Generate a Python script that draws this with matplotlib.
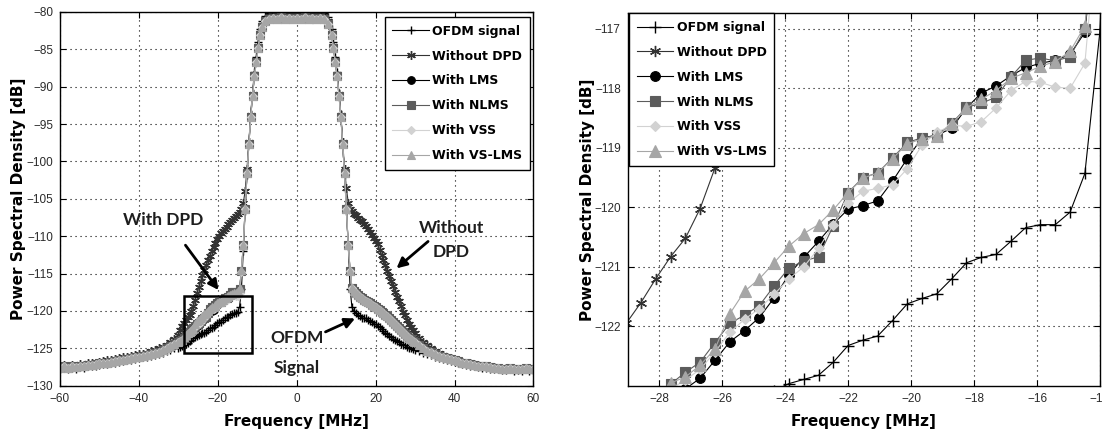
import matplotlib
matplotlib.use("Agg")
import matplotlib.pyplot as plt
from matplotlib.patches import Rectangle

# ---------------- data ----------------
freq_left_tail = [-60, -59, -58, -57, -56, -55, -54, -53, -52, -51, -50, -49, -48, -47, -46, -45,
                  -44, -43, -42, -41, -40, -39, -38, -37, -36, -35, -34, -33, -32, -31, -30,
                  -29.52, -29.05]
freq_zoom = [-28.58, -28.11, -27.64, -27.17, -26.70, -26.23, -25.76, -25.29, -24.82, -24.35,
             -23.88, -23.41, -22.94, -22.47, -22.00, -21.53, -21.06, -20.59, -20.12, -19.65,
             -19.18, -18.71, -18.24, -17.77, -17.30, -16.83, -16.36, -15.89, -15.42, -14.95,
             -14.48, -14.01]
freq_core = [-13.54, -13.07, -12.60, -12.13, -11.66, -11.19, -10.72, -10.25, -9.78, -9.31, -8.84,
             -8, -7, -6, -5, -4, -3, -2, -1, 0, 1, 2, 3, 4, 5, 6, 7, 8,
             8.84, 9.31, 9.78, 10.25, 10.72, 11.19, 11.66, 12.13, 12.60, 13.07, 13.54]
freq_right = [14.0, 14.5, 15.0, 15.5, 16.0, 16.5, 17.0, 17.5, 18.0, 18.5, 19.0, 19.5, 20.0, 20.5,
              21.0, 21.5, 22.0, 22.5, 23.0, 23.5, 24.0, 24.5, 25.0, 25.5, 26.0, 26.5, 27.0, 27.5,
              28.0, 28.5, 29.0, 29.5, 30.0,
              31, 32, 33, 34, 35, 36, 37, 38, 39, 40, 41, 42, 43, 44, 45, 46, 47, 48, 49, 50,
              51, 52, 53, 54, 55, 56, 57, 58, 59, 60]

# OFDM signal
ofdm_left_tail = [-127.8, -127.6, -127.8, -127.6, -127.7, -127.5, -127.6, -127.4, -127.4, -127.3,
                  -127.2, -127.1, -127.1, -127.0, -126.9, -126.8, -126.7, -126.6, -126.5, -126.4,
                  -126.3, -126.2, -126.1, -126.0, -125.9, -125.8, -125.6, -125.4, -125.2, -125.0,
                  -124.9, -124.8, -124.7]
ofdm_zoom = [-124.6, -124.45, -124.25, -124.05, -123.85, -123.65, -123.5, -123.35, -123.2, -123.08,
             -122.96, -122.89, -122.82, -122.6, -122.32, -122.23, -122.16, -121.9, -121.62, -121.53,
             -121.45, -121.2, -120.93, -120.84, -120.79, -120.57, -120.34, -120.29, -120.29, -120.08,
             -119.43, -117.08]
ofdm_core = [-112.0, -106.6, -101.8, -97.6, -93.6, -90.8, -88.0, -86.0, -84.0, -82.3, -81.2,
             -80.6, -80.2, -80.1, -80.0, -80.1, -80.0, -80.1, -80.0, -80.1, -80.0, -80.1, -80.0,
             -80.1, -80.0, -80.1, -80.2, -80.7,
             -82.3, -84.0, -86.0, -88.0, -90.8, -93.6, -97.6, -101.8, -106.6, -111.3, -117.0]
ofdm_right = [-119.5, -120.0, -120.3, -120.5, -120.7, -120.9, -121.0, -121.0, -121.2, -121.4,
              -121.5, -121.7, -121.8, -122.0, -122.2, -122.4, -122.7, -122.9, -123.1, -123.3,
              -123.5, -123.7, -123.9, -124.0, -124.2, -124.4, -124.5, -124.6, -124.8, -124.9,
              -125.0, -125.1, -125.2,
              -125.4, -125.6, -125.8, -125.9, -126.1, -126.3, -126.4, -126.5, -126.7, -126.8,
              -126.9, -127.1, -127.2, -127.3, -127.4, -127.5, -127.6, -127.6, -127.7, -127.8,
              -127.8, -127.9, -127.9, -127.8, -128.0, -127.9, -128.0, -127.8, -128.0, -127.9]

# Without DPD
nodpd_left_tail = [-127.4, -127.2, -127.4, -127.2, -127.3, -127.1, -127.2, -127.0, -127.0, -126.9,
                   -126.8, -126.7, -126.6, -126.5, -126.4, -126.3, -126.2, -126.1, -126.0, -125.9,
                   -125.8, -125.7, -125.6, -125.4, -125.2, -125.0, -124.8, -124.5, -124.2, -123.8,
                   -123.2, -122.5, -121.95]
nodpd_zoom = [-121.6, -121.2, -120.83, -120.52, -120.02, -119.34, -118.5, -117.6, -116.8, -116.0,
              -115.2, -114.5, -113.8, -113.2, -112.6, -112.0, -111.4, -110.9, -110.4, -110.0,
              -109.6, -109.3, -109.0, -108.7, -108.4, -108.1, -107.8, -107.6, -107.3, -107.0,
              -106.7, -106.3]
nodpd_core = [-105.6, -103.9, -101.0, -97.4, -93.8, -91.0, -88.4, -86.4, -84.5, -82.8, -81.7,
              -80.9, -80.5, -80.4, -80.3, -80.4, -80.3, -80.4, -80.3, -80.4, -80.3, -80.4, -80.3,
              -80.4, -80.3, -80.4, -80.6, -81.2,
              -82.8, -84.5, -86.4, -88.4, -91.0, -93.8, -97.4, -101.0, -103.6, -105.5, -106.3]
nodpd_right = [-106.6, -107.0, -107.2, -107.5, -107.8, -108.0, -108.3, -108.6, -109.0, -109.4,
               -109.8, -110.2, -110.6, -111.1, -111.8, -112.5, -113.2, -113.9, -114.6, -115.3,
               -116.0, -116.7, -117.4, -118.1, -118.7, -119.4, -120.1, -120.6, -121.2, -121.7,
               -122.2, -122.6, -122.9,
               -123.6, -124.1, -124.6, -124.9, -125.3, -125.6, -125.9, -126.1, -126.3, -126.5,
               -126.6, -126.8, -126.9, -127.0, -127.1, -127.2, -127.3, -127.4, -127.5, -127.5,
               -127.6, -127.7, -127.6, -127.7, -127.8, -127.7, -127.8, -127.7, -127.8, -127.8]

# With DPD (the four algorithms coincide outside the zoomed band)
dpd_left_tail = [-127.6, -127.4, -127.6, -127.4, -127.5, -127.3, -127.4, -127.2, -127.2, -127.1,
                 -127.0, -126.9, -126.9, -126.8, -126.7, -126.6, -126.5, -126.4, -126.3, -126.2,
                 -126.1, -126.0, -125.9, -125.8, -125.6, -125.5, -125.2, -125.0, -124.7, -124.4,
                 -124.2, -124.0, -123.85]
dpd_core = [-111.2, -106.3, -101.6, -97.7, -94.0, -91.2, -88.6, -86.7, -84.8, -83.1, -82.0,
            -81.2, -80.9, -80.8, -80.9, -80.7, -80.9, -80.8, -80.9, -80.8, -80.9, -80.7, -80.9,
            -80.8, -80.9, -80.8, -81.0, -81.6,
            -83.1, -84.8, -86.7, -88.6, -91.2, -94.0, -97.7, -101.6, -106.3, -111.2, -114.6]
dpd_right = [-116.9, -117.3, -117.6, -117.9, -118.1, -118.3, -118.5, -118.7, -118.8, -119.0,
             -119.2, -119.4, -119.5, -119.7, -119.9, -120.1, -120.3, -120.5, -120.7, -121.0,
             -121.2, -121.5, -121.7, -122.0, -122.3, -122.6, -122.8, -123.1, -123.3, -123.6,
             -123.8, -124.0, -124.2,
             -124.6, -125.0, -125.3, -125.5, -125.8, -126.0, -126.2, -126.3, -126.4, -126.6,
             -126.7, -126.9, -127.0, -127.1, -127.2, -127.3, -127.4, -127.4, -127.5, -127.6,
             -127.6, -127.7, -127.7, -127.6, -127.8, -127.7, -127.8, -127.6, -127.8, -127.7]

lms_zoom = [-123.75, -123.45, -123.2, -123.05, -122.87, -122.57, -122.26, -122.07, -121.85, -121.52,
            -121.13, -120.84, -120.57, -120.28, -120.03, -119.97, -119.89, -119.56, -119.18, -118.83,
            -118.79, -118.67, -118.33, -118.08, -117.96, -117.79, -117.65, -117.58, -117.53, -117.43,
            -117.06, -114.6]
nlms_zoom = [-123.6, -123.3, -122.97, -122.77, -122.6, -122.27, -121.95, -121.81, -121.65, -121.32,
             -121.02, -120.9, -120.83, -120.31, -119.75, -119.5, -119.42, -119.17, -118.91, -118.83,
             -118.79, -118.59, -118.32, -118.25, -118.15, -117.81, -117.53, -117.49, -117.54, -117.47,
             -117.0, -114.6]
vss_zoom = [-123.7, -123.35, -123.05, -122.9, -122.72, -122.43, -122.1, -121.88, -121.7, -121.46,
            -121.2, -121.0, -120.69, -120.29, -119.93, -119.73, -119.68, -119.62, -119.35, -118.95,
            -118.74, -118.62, -118.64, -118.56, -118.33, -118.04, -117.88, -117.9, -117.98, -118.0,
            -117.58, -114.8]
vslms_zoom = [-123.5, -123.2, -122.95, -122.85, -122.65, -122.38, -121.79, -121.41, -121.2, -120.93,
              -120.65, -120.44, -120.29, -120.04, -119.75, -119.51, -119.42, -119.18, -118.93, -118.85,
              -118.8, -118.6, -118.33, -118.18, -118.04, -117.83, -117.74, -117.63, -117.55, -117.38,
              -116.95, -114.5]

labels = ["OFDM signal", "Without DPD", "With LMS", "With NLMS", "With VSS", "With VS-LMS"]

# ---------------- assemble ----------------
freq_all = freq_left_tail + freq_zoom + freq_core + freq_right
series = [
    ofdm_left_tail + ofdm_zoom + ofdm_core + ofdm_right,
    nodpd_left_tail + nodpd_zoom + nodpd_core + nodpd_right,
    dpd_left_tail + lms_zoom + dpd_core + dpd_right,
    dpd_left_tail + nlms_zoom + dpd_core + dpd_right,
    dpd_left_tail + vss_zoom + dpd_core + dpd_right,
    dpd_left_tail + vslms_zoom + dpd_core + dpd_right,
]
asterisk = (6, 2, 0)
styles = [
    dict(color="black", marker="+", mfc="black", mec="black"),
    dict(color="#333333", marker=asterisk, mfc="#333333", mec="#333333"),
    dict(color="black", marker="o", mfc="black", mec="black"),
    dict(color="#5c5c5c", marker="s", mfc="#5c5c5c", mec="#5c5c5c"),
    dict(color="#d2d2d2", marker="D", mfc="#d2d2d2", mec="#d2d2d2"),
    dict(color="#a6a6a6", marker="^", mfc="#a6a6a6", mec="#a6a6a6"),
]
size_factor = [1.15, 1.15, 1.0, 1.0, 0.8, 1.15]

W, H = 1102, 432
fig = plt.figure(figsize=(W / 100, H / 100), dpi=100)
fig.patch.set_facecolor("white")

ax1 = fig.add_axes([60 / W, (H - 385.7) / H, (533.4 - 60) / W, (385.7 - 12) / H])
ax2 = fig.add_axes([627.7 / W, (H - 386) / H, (1100 - 627.7) / W, (386 - 12.7) / H])

label_font = dict(family="DejaVu Sans", weight="bold", size=11)

for ax, ms in ((ax1, 5.5), (ax2, 7)):
    for y, lab, st, sf in zip(series, labels, styles, size_factor):
        mew = 1.0 if st["marker"] in ("+", asterisk) else 0.8
        ax.plot(freq_all, y, linestyle="-", linewidth=0.8, markersize=ms * sf,
                markeredgewidth=mew, label=lab, **st)
    ax.grid(True, linestyle=(0, (1, 3.5)), color="black", linewidth=0.8)
    ax.tick_params(direction="in", top=True, right=True, length=4, width=0.8,
                   labelsize=8.5, labelcolor="#2a2a2a", pad=5)
    for sp in ax.spines.values():
        sp.set_linewidth(1.0)
        sp.set_color("black")
    ax.set_xlabel("Frequency [MHz]", **label_font)
    ax.set_ylabel("Power Spectral Density [dB]", **label_font)

ax1.set_xlim(-60, 60)
ax1.set_ylim(-130, -80)
ax1.set_xticks([-60, -40, -20, 0, 20, 40, 60])
ax1.set_yticks([-130, -125, -120, -115, -110, -105, -100, -95, -90, -85, -80])
ax2.set_xlim(-29, -14)
ax2.set_ylim(-123, -116.73)
ax2.set_xticks([-28, -26, -24, -22, -20, -18, -16, -14])
ax2.set_yticks([-122, -121, -120, -119, -118, -117])
for ax in (ax1, ax2):
    for lbl in ax.get_xticklabels() + ax.get_yticklabels():
        lbl.set_family("Liberation Sans")

ax1.xaxis.set_label_coords(0.5, -0.075)
ax2.xaxis.set_label_coords(0.5, -0.075)
ax1.yaxis.set_label_coords(-0.072, 0.5)
ax2.yaxis.set_label_coords(-0.07, 0.5)

leg_font = dict(family="DejaVu Sans", weight="bold", size=9)
leg_kw = dict(borderaxespad=0, prop=leg_font, frameon=True, fancybox=False, edgecolor="black",
              framealpha=1, handlelength=2.9, labelspacing=0.95, borderpad=0.6,
              handletextpad=0.3)
leg1 = ax1.legend(loc="upper right", bbox_to_anchor=(0.993, 0.986), **leg_kw)
leg1.get_frame().set_linewidth(1.0)
leg2 = ax2.legend(loc="upper left", bbox_to_anchor=(0.003, 0.998), **leg_kw)
leg2.get_frame().set_linewidth(1.0)

# ---------------- annotations (left panel) ----------------
ann_font = dict(family="Lato", weight="bold", size=12.5, color="#1e1e1e")
ax1.text(-33.8, -107.8, "With DPD", ha="center", va="center", **ann_font)
ax1.text(39.2, -110.5, "Without\nDPD", ha="center", va="center", linespacing=1.6, **ann_font)
ax1.text(0.1, -125.6, "OFDM\n\nSignal", ha="center", va="center", linespacing=0.9, **ann_font)

arrow = dict(arrowstyle="-|>,head_length=0.6,head_width=0.3", color="black", lw=2.0,
             shrinkA=0, shrinkB=0)
ax1.annotate("", xy=(-19.8, -117.2), xytext=(-28.2, -111.2), arrowprops=arrow)
ax1.annotate("", xy=(25.3, -114.3), xytext=(33.3, -110.7), arrowprops=arrow)
ax1.annotate("", xy=(14.8, -121.0), xytext=(7.3, -122.8), arrowprops=arrow)

ax1.add_patch(Rectangle((-28.45, -125.67), 17.05, 7.67, fill=False, edgecolor="black",
                        linewidth=1.8, zorder=5))

fig.savefig("out.png", dpi=100, facecolor="white")
